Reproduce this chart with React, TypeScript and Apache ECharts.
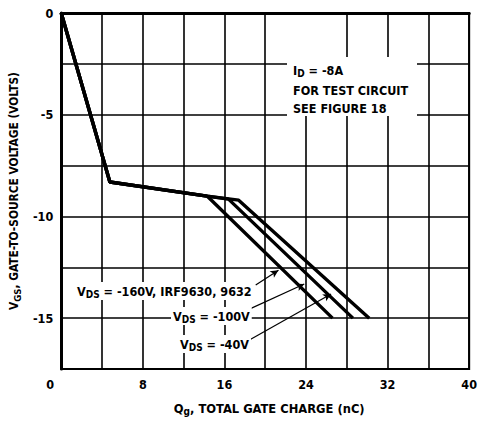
import React, { useEffect, useRef } from "react";
import * as echarts from "echarts";

const FONT = "'Liberation Sans Narrow','DejaVu Sans Condensed','Arial Narrow',sans-serif";

// Gate charge curves (Qg nC, VGS V)
const curve40 = [[0, 0], [4.77, -8.31], [14.3, -9.0], [26.6, -15.0]];
const curve100 = [[0, 0], [4.77, -8.31], [14.3, -9.0], [16.4, -9.15], [28.6, -15.0]];
const curve160 = [[0, 0], [4.77, -8.31], [14.3, -9.0], [17.4, -9.2], [30.2, -15.0]];

// Annotation arrows: [tail, tip] in data coordinates
const arrow160 = [[19.07, -13.37], [21.3, -12.64]];
const arrow100 = [[17.7, -14.73], [23.83, -13.32]];
const arrow40 = [[18.58, -16.04], [26.46, -13.81]];

const xTicks = [0, 8, 16, 24, 32, 40];
const yTicks = [0, -5, -10, -15];

export default function App() {
  const ref = useRef<HTMLDivElement>(null);
  useEffect(() => {
    if (!ref.current) return;
    const chart = echarts.init(ref.current, null, { renderer: "svg" });
    const subRich = (size: number) => ({
      sub: { fontSize: size, fontFamily: FONT, fontWeight: "bold", color: "#000", verticalAlign: "bottom", padding: [6, 0, 0, 0] },
    });
    const lineSeries = (name: string, data: number[][]) => ({
      name,
      type: "line",
      data,
      showSymbol: false,
      symbol: "none",
      lineStyle: { color: "#000", width: 3.4 },
      z: 3,
    });
    const arrowItem = (a: number[][]) => [{ coord: a[0] }, { coord: a[1] }];
    const labelText = (text: string, x: number, y: number) => ({
      type: "text",
      x,
      y,
      z: 20,
      style: {
        text,
        font: `bold 12.5px ${FONT}`,
        fill: "#000",
        textVerticalAlign: "middle",
        verticalAlign: "middle",
        backgroundColor: "#fff",
        padding: [1, 2, 1, 2],
        rich: {
          sub: { font: `bold 10px ${FONT}`, fill: "#000", padding: [6, 0, 0, 0] },
        },
      },
    });
    const option = {
      animation: false,
      grid: { left: 61, top: 13, right: 8, bottom: 48, show: true, borderColor: "#000", borderWidth: 2 },
      xAxis: {
        type: "value",
        min: 0,
        max: 40,
        interval: 4,
        axisLine: { show: true, lineStyle: { color: "#000", width: 3 } },
        axisTick: { show: false },
        splitLine: { show: true, lineStyle: { color: "#000", width: 1.6 } },
        axisLabel: {
          margin: 9,
          fontFamily: FONT,
          fontWeight: "bold",
          fontSize: 12.5,
          color: "#000",
          formatter: (v: number) => (xTicks.indexOf(v) >= 0 ? (v === 0 ? "{z|0}" : String(v)) : ""),
          rich: { z: { fontFamily: FONT, fontWeight: "bold", fontSize: 12.5, color: "#000", padding: [0, 22, 0, 0] } },
        },
        name: "Q{sub|g}, TOTAL GATE CHARGE (nC)",
        nameLocation: "middle",
        nameGap: 31,
        nameTextStyle: {
          fontFamily: FONT,
          fontWeight: "bold",
          fontSize: 12.8,
          color: "#000",
          padding: [0, 0, 0, 8],
          rich: subRich(10),
        },
      },
      yAxis: {
        type: "value",
        min: -17.5,
        max: 0,
        interval: 2.5,
        axisLine: { show: true, lineStyle: { color: "#000", width: 3 } },
        axisTick: { show: false },
        splitLine: { show: true, lineStyle: { color: "#000", width: 1.6 } },
        axisLabel: {
          margin: 8,
          fontFamily: FONT,
          fontWeight: "bold",
          fontSize: 12.5,
          color: "#000",
          formatter: (v: number) => (yTicks.indexOf(v) >= 0 ? String(v) : ""),
        },
        name: "V{sub|GS}, GATE-TO-SOURCE VOLTAGE (VOLTS)",
        nameLocation: "middle",
        nameGap: 34,
        nameTextStyle: {
          fontFamily: FONT,
          fontWeight: "bold",
          fontSize: 11.8,
          color: "#000",
          rich: subRich(9.5),
        },
      },
      series: [
        {
          ...lineSeries("VDS = -40V", curve40),
          markLine: {
            silent: true,
            symbol: ["none", "arrow"],
            symbolSize: [6, 8],
            label: { show: false },
            lineStyle: { color: "#000", width: 1.2, type: "solid" },
            data: [arrowItem(arrow160), arrowItem(arrow100), arrowItem(arrow40)],
          },
        },
        lineSeries("VDS = -100V", curve100),
        lineSeries("VDS = -160V", curve160),
      ],
      graphic: [
        { type: "rect", z: 10, shape: { x: 287, y: 57, width: 130, height: 59 }, style: { fill: "#fff" } },
        { type: "rect", z: 10, shape: { x: 305, y: 15, width: 6, height: 43 }, style: { fill: "#fff" } },
        labelText("I{sub|D} = -8A", 291, 70),
        labelText("FOR TEST CIRCUIT", 291, 90),
        labelText("SEE FIGURE 18", 291, 108),
        labelText("V{sub|DS} = -160V, IRF9630, 9632", 75, 291),
        labelText("V{sub|DS} = -100V", 171, 316),
        labelText("V{sub|DS} = -40V", 178, 344),
      ],
    };
    chart.setOption(option as any);
    return () => chart.dispose();
  }, []);
  return (
    <div
      ref={ref}
      style={{ position: "fixed", left: 0, top: 0, width: 480, height: 421, background: "#fff" }}
    />
  );
}
